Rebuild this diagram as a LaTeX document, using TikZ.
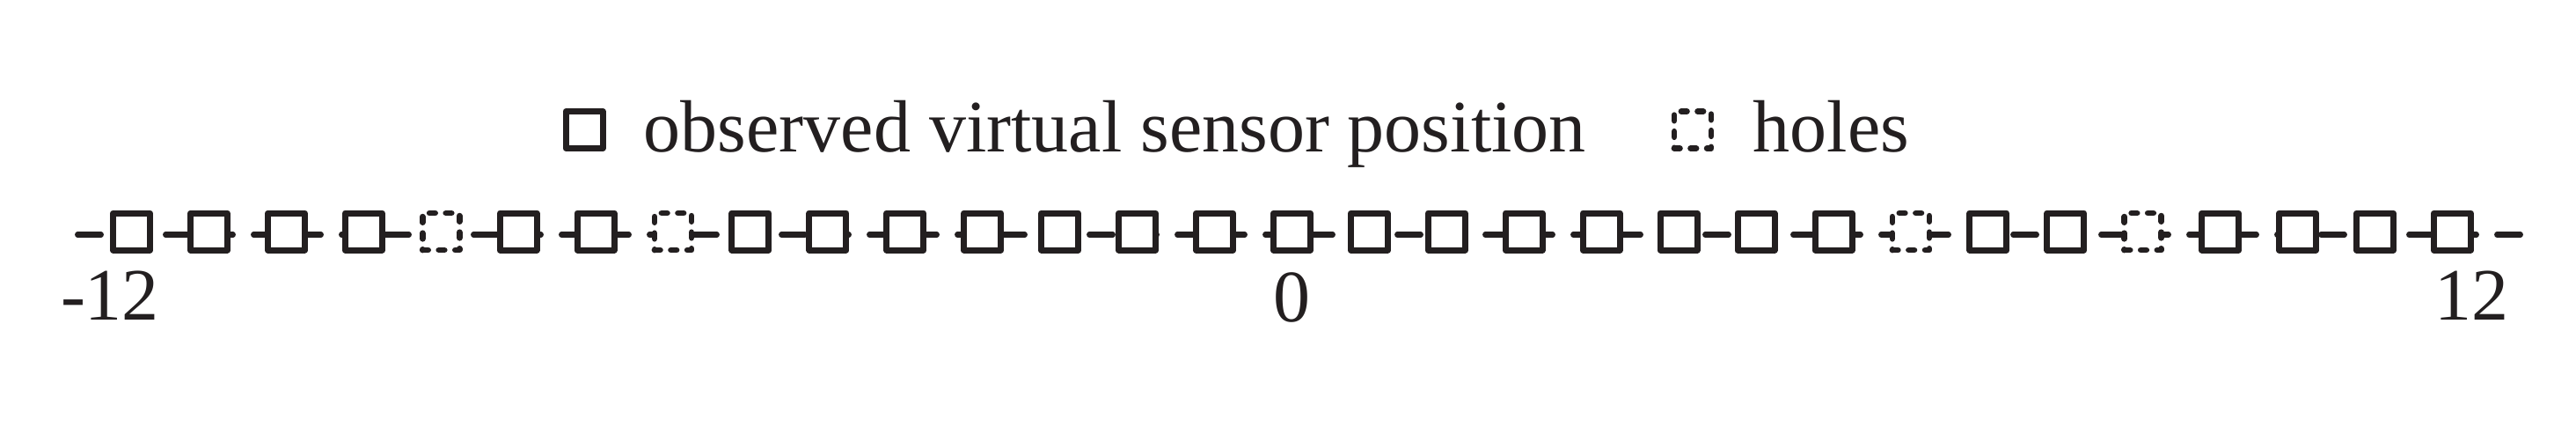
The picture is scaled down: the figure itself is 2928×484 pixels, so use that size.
\documentclass[tikz,border=0pt]{standalone}
\usepackage{fontspec}
\setmainfont{Liberation Serif}
\definecolor{ink}{RGB}{35,31,32}
\begin{document}
\begin{tikzpicture}[x=0.25pt, y=-0.25pt,
  sensor/.style={rectangle, draw=ink, fill=white, line width=1.75pt, line join=round, minimum size=10.5pt, inner sep=0pt},
  hole/.style={sensor, line width=1.7pt, line cap=round, dash pattern=on 1.6pt off 3.05pt},
  axisline/.style={draw=ink, line width=1.6pt, line cap=round, dash pattern=on 6.625pt off 5.875pt},
  lbl/.style={text=ink, inner sep=0pt, font=\fontsize{21pt}{25pt}\selectfont}]
\useasboundingbox (0,0) rectangle (2928,484);
% legend
\node[sensor] (legS) at (664,147.5){};
\node[lbl, anchor=base west] (legStext) at (731,172){observed virtual sensor position};
\node[hole] (legH) at (1924,147.5){};
\node[lbl, anchor=base west] (legHtext) at (1992,172){holes};
% array line
\coordinate (axL) at (88.25,266.5);
\coordinate (axR) at (2864.75,266.5);
\draw[axisline](axL) -- (axR);
\node[sensor] (pos0) at (149.5,263){};
\node[sensor] (pos1) at (237.4,263){};
\node[sensor] (pos2) at (325.4,263){};
\node[sensor] (pos3) at (413.3,263){};
\node[hole] (pos4) at (501.2,263){};
\node[sensor] (pos5) at (589.2,263){};
\node[sensor] (pos6) at (677.1,263){};
\node[hole] (pos7) at (765.0,263){};
\node[sensor] (pos8) at (852.9,263){};
\node[sensor] (pos9) at (940.9,263){};
\node[sensor] (pos10) at (1028.8,263){};
\node[sensor] (pos11) at (1116.7,263){};
\node[sensor] (pos12) at (1204.7,263){};
\node[sensor] (pos13) at (1292.6,263){};
\node[sensor] (pos14) at (1380.5,263){};
\node[sensor] (pos15) at (1468.5,263){};
\node[sensor] (pos16) at (1556.4,263){};
\node[sensor] (pos17) at (1644.3,263){};
\node[sensor] (pos18) at (1732.2,263){};
\node[sensor] (pos19) at (1820.2,263){};
\node[sensor] (pos20) at (1908.1,263){};
\node[sensor] (pos21) at (1996.0,263){};
\node[sensor] (pos22) at (2084.0,263){};
\node[hole] (pos23) at (2171.9,263){};
\node[sensor] (pos24) at (2259.8,263){};
\node[sensor] (pos25) at (2347.8,263){};
\node[hole] (pos26) at (2435.7,263){};
\node[sensor] (pos27) at (2523.6,263){};
\node[sensor] (pos28) at (2611.5,263){};
\node[sensor] (pos29) at (2699.5,263){};
\node[sensor] (pos30) at (2787.4,263){};
% tick labels
\node[lbl, anchor=base] (lblL) at (125,363){-12};
\node[lbl, anchor=base] (lblZ) at (1468,365){0};
\node[lbl, anchor=base] (lblR) at (2809,363){12};
\end{tikzpicture}
\end{document}
